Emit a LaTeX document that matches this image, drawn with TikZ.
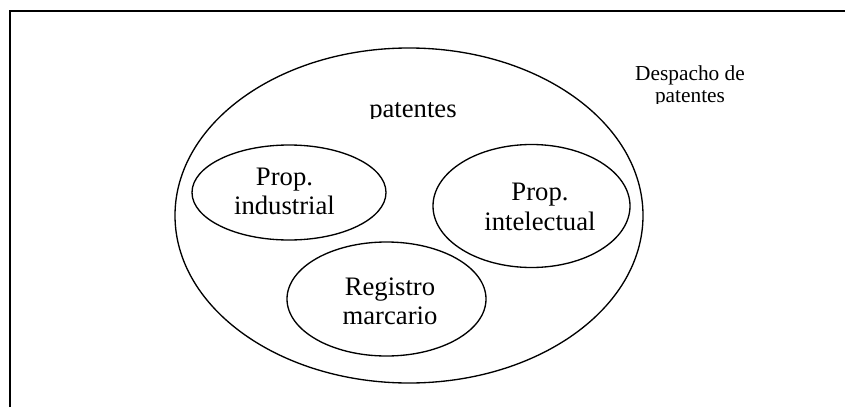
\documentclass[tikz,border=0pt]{standalone}
\usepackage{fontspec}
\setmainfont{Liberation Serif}
\usetikzlibrary{positioning, calc, shapes.geometric}
\tikzstyle{Bubble} = [
ellipse,
draw,
line width=1pt,
inner sep=0pt]
\tikzstyle{Label} = [align=center, inner sep=0pt, font=\fontsize{20}{22}\selectfont]
\tikzstyle{Small} = [align=center, inner sep=0pt, font=\fontsize{16}{16.5}\selectfont]

\begin{document}
\begin{tikzpicture}[x=0.75pt, y=-0.75pt]
    \useasboundingbox (0,0) rectangle (845,407);
    \draw [line width=1.6pt] (10,407) -- (10,11) -- (845,11);
    \node [Bubble, minimum width=351pt, minimum height=251.25pt] (Office) at (409,215.5) {};
    \node [Bubble, minimum width=145.5pt, minimum height=71.25pt] (Industrial) at (289,192.5) {};
    \node [Bubble, minimum width=147.75pt, minimum height=92.25pt] (Intelectual) at (531.5,206) {};
    \node [Bubble, minimum width=149.25pt, minimum height=85.5pt] (Marcario) at (386.5,299) {};
    \node [Label] (IndText) at ($(Industrial)+(-4.5,-1)$) {Prop.\\industrial};
    \node [Label] (IntText) at ($(Intelectual)+(8.5,1)$) {Prop.\\intelectual};
    \node [Label] (MarText) at ($(Marcario)+(3.5,2)$) {Registro\\marcario};
    \begin{scope}
        \clip (0,0) rectangle (845,118);
        \node [Label, anchor=base] (Title) at (413,117) {patentes};
    \end{scope}
    \begin{scope}
        \clip (0,0) rectangle (845,103);
        \node [Small] (Despacho) at (690,86) {Despacho de\\patentes};
    \end{scope}
\end{tikzpicture}
\end{document}
